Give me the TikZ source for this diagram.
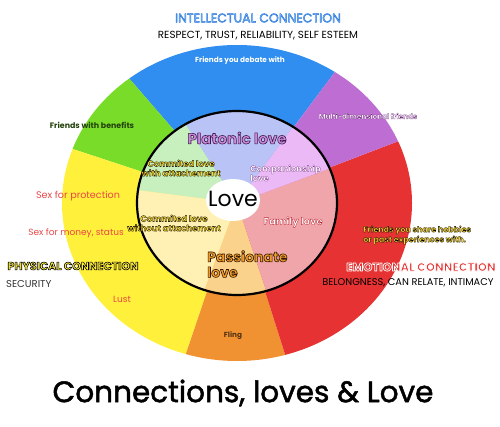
\documentclass[tikz,border=0pt]{standalone}
\usepackage{fontspec}
\setmainfont{Poppins}
\usepackage{tikz}

\definecolor{ringblue}{HTML}{2F8EF0}
\definecolor{ringgreen}{HTML}{78DC28}
\definecolor{ringyellow}{HTML}{FFF03C}
\definecolor{ringorange}{HTML}{F09132}
\definecolor{ringred}{HTML}{E63232}
\definecolor{ringpurple}{HTML}{BE6ED2}
\definecolor{coreblue}{HTML}{B9C3F5}
\definecolor{coregreen}{HTML}{C8F0BE}
\definecolor{corecream}{HTML}{FFF0B4}
\definecolor{coreorange}{HTML}{FAD28C}
\definecolor{corepink}{HTML}{F0A5AA}
\definecolor{corepurple}{HTML}{EBB9F5}

% text filled in the current colour, edged with a stroke of rgb #2
\newcommand{\outl}[3][0.3]{\special{pdf:literal direct #2 RG #1 w 1 j 2 Tr}#3\special{pdf:literal direct 0 Tr 0.4 w}}

\begin{document}
\begin{tikzpicture}[x=1pt, y=1pt,
    lbl/.style={inner sep=0pt, align=center},
    small/.style={lbl, font=\bfseries\fontsize{7.3}{8.5}\selectfont},
    mid/.style={lbl, font=\fontsize{9}{10}\selectfont},
    head/.style={lbl, font=\fontsize{12.5}{14}\selectfont},
    inner/.style={lbl, font=\bfseries\fontsize{8.5}{9.5}\selectfont}]
    \useasboundingbox (0,0) rectangle (500,426);
    \coordinate (o) at (237,223);
    % outer ring
    \foreach \a/\b/\c in {56/128/ringblue, 128/160/ringgreen, 160/253/ringyellow,
                          253/286/ringorange, -74/23/ringred, 23/56/ringpurple}
        \fill [\c] (o) -- ++(\a:175 and 158)
            arc [start angle=\a, end angle=\b, x radius=175, y radius=158] -- cycle;
    % inner disc
    \foreach \a/\b/\c in {56/121/coreblue, 121/172/coregreen, 172/251/corecream,
                          251/287/coreorange, -73/22/corepink, 22/56/corepurple}
        \fill [\c] (o) -- ++(\a:100 and 92)
            arc [start angle=\a, end angle=\b, x radius=100, y radius=92] -- cycle;
    \draw [line width=2.2] (o) ellipse [x radius=100, y radius=92];
    \fill [white] (233,226) ellipse [x radius=27, y radius=21];

    % connections
    \node [head, text=ringblue!60] (intel) at (258,408)
        {\outl[0.4]{0.15 0.45 0.85}{INTELLECTUAL CONNECTION}};
    \node [mid, font=\fontsize{10.3}{12}\selectfont] (respect) at (258,390) {RESPECT, TRUST, RELIABILITY, SELF ESTEEM};
    \node [head, text=ringyellow, font=\bfseries\fontsize{11}{12}\selectfont] (physical) at (73,160)
        {\outl[0.6]{0 0 0}{PHYSICAL CONNECTION}};
    \node [mid, anchor=west, text=black!80, font=\fontsize{10}{11}\selectfont] (security) at (6,142) {SECURITY};
    \node [head, text=ringred, font=\bfseries\fontsize{11.6}{13}\selectfont] (emotional) at (421,159)
        {\outl[0.7]{1 1 1}{EMOTIONAL CONNECTION}};
    \node [mid, font=\fontsize{9.8}{11}\selectfont] (belong) at (408,143) {BELONGNESS, CAN RELATE, INTIMACY};

    % outer ring labels
    \node [small, text=white] (debate) at (240,365) {Friends you debate with};
    \node [small, text=white] (multi) at (368,310) {\outl[0.22]{0.42 0.14 0.48}{Multi-dimensional friends}};
    \node [small, text=black!70!ringgreen, font=\bfseries\fontsize{7.9}{9}\selectfont] (benefits) at (92,301)
        {Friends with benefits};
    \node [mid, text=ringred!85!pink, font=\fontsize{9.6}{11}\selectfont] (protect) at (78,230) {Sex for protection};
    \node [mid, text=ringred!85!pink] (money) at (76,193) {Sex for money, status};
    \node [mid, text=ringred!85!pink] (lust) at (122,127) {Lust};
    \node [small, text=black!65!ringorange] (fling) at (233,90) {Fling};
    \node [small, text=ringyellow!80!orange, align=left, anchor=west, font=\bfseries\fontsize{8}{10}\selectfont] (hobbies) at (363,191)
        {\outl[0.3]{0 0 0}{Friends you share hobbies}\\\outl[0.3]{0 0 0}{or past experiences with.}};

    % inner disc labels
    \node [lbl, text=ringpurple!80!white, font=\bfseries\fontsize{15}{16}\selectfont] (platonic) at (237,288)
        {\outl[0.6]{0.25 0.1 0.3}{Platonic love}};
    \node [inner, text=ringyellow!85!orange] (attached) at (181,258)
        {\outl[0.3]{0 0 0}{Commited love}\\\outl[0.3]{0 0 0}{with attachement}};
    \node [inner, text=ringyellow!85!orange] (unattached) at (174,203)
        {\outl[0.3]{0 0 0}{Commited love}\\\outl[0.3]{0 0 0}{without attachement}};
    \node [inner, text=white, align=left, anchor=west] (companion) at (250,253)
        {\outl[0.25]{0.5 0.2 0.55}{Companionship}\\\outl[0.25]{0.5 0.2 0.55}{love}};
    \node [inner, text=white, font=\bfseries\fontsize{10}{11}\selectfont] (family) at (293,204)
        {\outl[0.35]{0.75 0.15 0.2}{Family love}};
    \node [lbl, text=ringorange!90!yellow, align=left, anchor=west, font=\bfseries\fontsize{14}{15.5}\selectfont] (passion)
        at (207,162) {\outl[0.6]{0.2 0.1 0}{Passionate}\\\outl[0.6]{0.2 0.1 0}{love}};
    \node [lbl, font=\fontsize{22}{24}\selectfont] (love) at (233,227) {Love};

    % title
    \node [lbl, font=\fontsize{29.5}{32}\selectfont] (title) at (243,33)
        {\outl[0.5]{0 0 0}{Connections, loves \& Love}};
\end{tikzpicture}
\end{document}
